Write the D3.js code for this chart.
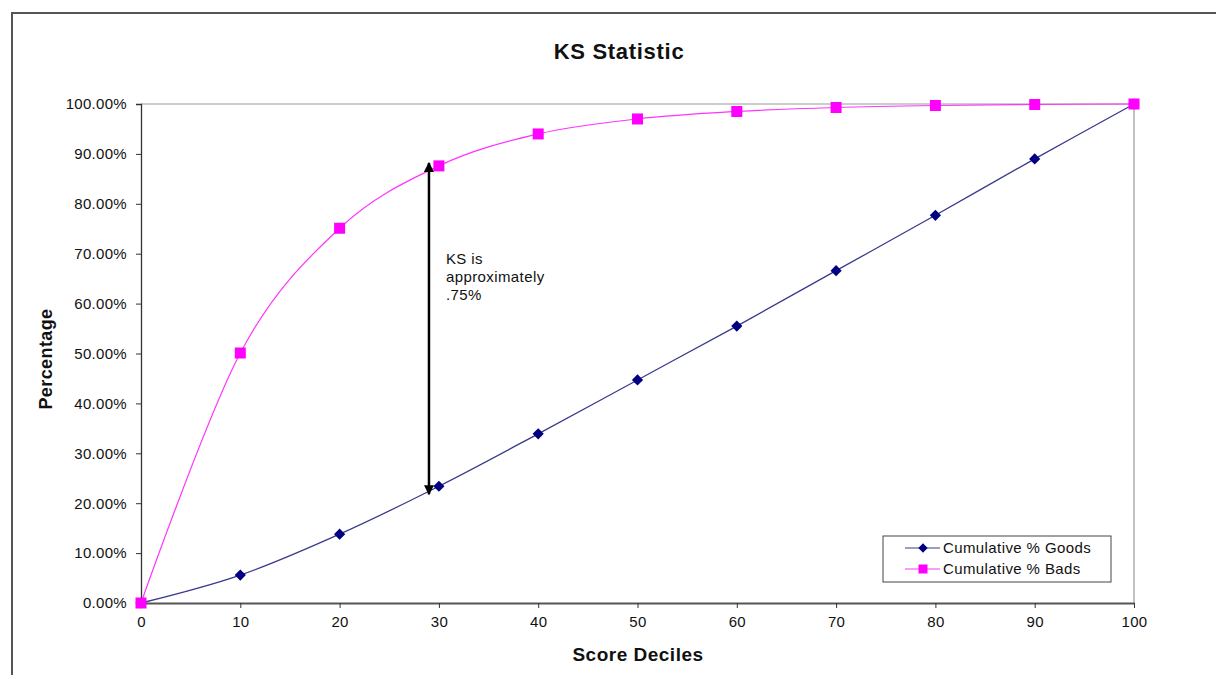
<!DOCTYPE html>
<html>
<head>
<meta charset="utf-8">
<script src="https://cdn.jsdelivr.net/npm/d3@7"></script>
<style>
  html, body { margin: 0; padding: 0; background: #fff; }
  svg { display: block; }
  text { font-family: "Liberation Sans", Arial, sans-serif; fill: #111; }
</style>
</head>
<body>
<svg id="chart" width="1216" height="675"></svg>
<script>
// Score deciles and cumulative distributions (percent)
const deciles = [0, 10, 20, 30, 40, 50, 60, 70, 80, 90, 100];
const cumGoods = [0, 5.6, 13.8, 23.4, 33.9, 44.7, 55.5, 66.6, 77.7, 89.0, 100];
const cumBads = [0, 50.1, 75.1, 87.6, 94.0, 97.0, 98.5, 99.3, 99.7, 99.9, 100];
const yTicks = [0, 10, 20, 30, 40, 50, 60, 70, 80, 90, 100];
const seriesNames = ["Cumulative % Goods", "Cumulative % Bads"];
// KS gap marked at decile 29
const ksX = 29;
const ksFrom = 88.2;
const ksTo = 21.8;
const ksNote = ["KS is", "approximately", ".75%"];

const svg = d3.select("#chart");
const W = 1216, H = 675;
const m = { left: 141, right: 1134, top: 104, bottom: 603 };

// Outer chart frame (runs past the visible area on the right and bottom)
svg.append("rect")
  .attr("x", 12).attr("y", 13)
  .attr("width", W + 20).attr("height", H + 20)
  .attr("fill", "none").attr("stroke", "#555").attr("stroke-width", 2);

const x = d3.scaleLinear().domain([0, 100]).range([m.left, m.right]);
const y = d3.scaleLinear().domain([0, 100]).range([m.bottom, m.top]);

// Plot area border: gray top and right
svg.append("path")
  .attr("d", `M${m.left},${m.top}H${m.right}V${m.bottom}`)
  .attr("fill", "none").attr("stroke", "#999").attr("stroke-width", 1.2);

const tickFont = sel => sel.style("font-size", "15px").style("letter-spacing", "0.3px")
  .attr("fill", "#111").style("font-family", "'Liberation Sans', Arial, sans-serif");

// Y axis
const yAxis = svg.append("g")
  .attr("transform", `translate(${m.left},0)`)
  .call(d3.axisLeft(y).tickValues(yTicks).tickSize(5).tickPadding(9)
    .tickFormat(d => d3.format(".2f")(d) + "%"));
yAxis.select(".domain").attr("stroke", "#333").attr("stroke-width", 1.3);
yAxis.selectAll(".tick line").attr("stroke", "#333");
yAxis.selectAll("text").call(tickFont);

// X axis
const xAxis = svg.append("g")
  .attr("transform", `translate(0,${m.bottom})`)
  .call(d3.axisBottom(x).tickValues(deciles).tickSize(5).tickPadding(8)
    .tickSizeOuter(0));
xAxis.select(".domain").attr("stroke", "#555").attr("stroke-width", 2);
xAxis.selectAll(".tick line").attr("stroke", "#333");
xAxis.selectAll("text").call(tickFont);

// Titles
svg.append("text").attr("x", 619).attr("y", 59).attr("text-anchor", "middle")
  .style("font-size", "22px").style("font-weight", "bold").style("letter-spacing", "0.7px")
  .text("KS Statistic");
svg.append("text").attr("x", 638).attr("y", 661).attr("text-anchor", "middle")
  .style("font-size", "19px").style("font-weight", "bold").style("letter-spacing", "0.5px")
  .text("Score Deciles");
svg.append("text")
  .attr("transform", `translate(52,359) rotate(-90)`)
  .attr("text-anchor", "middle")
  .style("font-size", "18px").style("font-weight", "bold").style("letter-spacing", "0.4px")
  .text("Percentage");

// Smoothed series lines
const line = d3.line()
  .x((d, i) => x(deciles[i]))
  .y(d => y(d))
  .curve(d3.curveCatmullRom.alpha(0));

svg.append("path").datum(cumBads)
  .attr("d", line).attr("fill", "none")
  .attr("stroke", "#ff33ff").attr("stroke-width", 1.2);
svg.append("path").datum(cumGoods)
  .attr("d", line).attr("fill", "none")
  .attr("stroke", "#3a3a8c").attr("stroke-width", 1.3);

// Markers
const diamond = d3.symbol().type(d3.symbolDiamond2).size(80);
svg.append("g").selectAll("path").data(cumGoods).join("path")
  .attr("d", diamond)
  .attr("transform", (d, i) => `translate(${x(deciles[i])},${y(d)})`)
  .attr("fill", "#000080");

svg.append("g").selectAll("rect").data(cumBads).join("rect")
  .attr("x", (d, i) => x(deciles[i]) - 5.5)
  .attr("y", d => y(d) - 5.5)
  .attr("width", 11).attr("height", 11)
  .attr("fill", "#ff00ff");

// KS double-headed arrow
const defs = svg.append("defs");
defs.append("marker")
  .attr("id", "arrowHead").attr("viewBox", "0 0 10 10")
  .attr("refX", 9).attr("refY", 5)
  .attr("markerWidth", 4).attr("markerHeight", 4)
  .attr("orient", "auto-start-reverse")
  .append("path").attr("d", "M0,0L10,5L0,10Z").attr("fill", "#000");

svg.append("line")
  .attr("x1", x(ksX)).attr("x2", x(ksX))
  .attr("y1", y(ksTo)).attr("y2", y(ksFrom))
  .attr("stroke", "#000").attr("stroke-width", 2.5)
  .attr("marker-start", "url(#arrowHead)")
  .attr("marker-end", "url(#arrowHead)");

const note = svg.append("text").attr("x", x(ksX) + 17).attr("y", 264)
  .style("font-size", "15px").style("letter-spacing", "0.4px");
ksNote.forEach((t, i) => note.append("tspan")
  .attr("x", x(ksX) + 17).attr("dy", i === 0 ? 0 : 18).text(t));

// Legend
const lg = svg.append("g").attr("transform", "translate(883,536)");
lg.append("rect").attr("width", 228).attr("height", 46)
  .attr("fill", "#fff").attr("stroke", "#444").attr("stroke-width", 1);
seriesNames.forEach((name, i) => {
  const cy = 12 + i * 21;
  lg.append("line").attr("x1", 22).attr("x2", 57).attr("y1", cy).attr("y2", cy)
    .attr("stroke", i === 0 ? "#3a3a8c" : "#ff33ff").attr("stroke-width", 1.2);
  if (i === 0) {
    lg.append("path").attr("d", d3.symbol().type(d3.symbolDiamond2).size(55))
      .attr("transform", `translate(40,${cy})`).attr("fill", "#000080");
  } else {
    lg.append("rect").attr("x", 35.5).attr("y", cy - 4.5).attr("width", 9).attr("height", 9)
      .attr("fill", "#ff00ff");
  }
  lg.append("text").attr("x", 60).attr("y", cy + 5)
    .style("font-size", "15px").style("letter-spacing", "0.4px").text(name);
});
</script>
</body>
</html>
